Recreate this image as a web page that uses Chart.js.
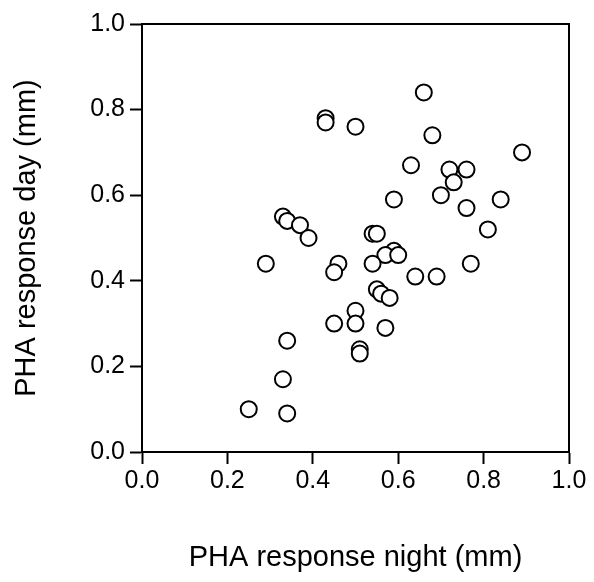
<!DOCTYPE html>
<html>
<head>
<meta charset="utf-8">
<script src="https://cdn.jsdelivr.net/npm/chart.js@4"></script>
<style>
  body { margin: 0; background: #fff; }
  #wrap { width: 594px; height: 582px; }
</style>
</head>
<body>
<div id="wrap"><canvas id="chart" width="594" height="582"></canvas></div>
<script>
// PHA response (mm), night vs day
const night = [0.43, 0.43, 0.50, 0.66, 0.68, 0.89, 0.63, 0.72, 0.76, 0.73, 0.70,
  0.59, 0.84, 0.76, 0.33, 0.34, 0.37, 0.81, 0.54, 0.55, 0.39, 0.59, 0.57, 0.60,
  0.29, 0.46, 0.54, 0.77, 0.45, 0.64, 0.69, 0.55, 0.56, 0.58, 0.50, 0.45, 0.50,
  0.57, 0.34, 0.51, 0.51, 0.33, 0.25, 0.34];
const day = [0.78, 0.77, 0.76, 0.84, 0.74, 0.70, 0.67, 0.66, 0.66, 0.63, 0.60,
  0.59, 0.59, 0.57, 0.55, 0.54, 0.53, 0.52, 0.51, 0.51, 0.50, 0.47, 0.46, 0.46,
  0.44, 0.44, 0.44, 0.44, 0.42, 0.41, 0.41, 0.38, 0.37, 0.36, 0.33, 0.30, 0.30,
  0.29, 0.26, 0.24, 0.23, 0.17, 0.10, 0.09];
const xTitle = "PHA response night (mm)";
const yTitle = "PHA response day (mm)";

const points = night.map((x, i) => ({ x: x, y: day[i] }));

const FONT = "'Liberation Sans', Arial, Helvetica, sans-serif";

// draws the top and right edges of the box
const frame = {
  id: "frame",
  afterDraw(chart) {
    const { ctx, chartArea: a } = chart;
    ctx.save();
    ctx.strokeStyle = "#000";
    ctx.lineWidth = 2;
    ctx.strokeRect(a.left, a.top, a.right - a.left, a.bottom - a.top);
    ctx.restore();
  },
};

const axisStyle = (title, pad) => ({
  type: "linear",
  min: 0,
  max: 1,
  ticks: {
    stepSize: 0.2,
    color: "#000",
    font: { family: FONT, size: 25 },
    padding: pad.tick,
    callback: (v) => v.toFixed(1),
  },
  grid: {
    drawOnChartArea: false,
    drawTicks: true,
    tickLength: 12,
    tickWidth: 2,
    color: "#000",
  },
  border: { display: true, color: "#000", width: 2 },
  title: {
    display: true,
    text: title,
    color: "#000",
    font: { family: FONT, size: 29 },
    padding: pad.title,
  },
});

const xAxis = axisStyle(xTitle, { tick: 2, title: { top: 0, bottom: 7 } });
xAxis.afterFit = (s) => { s.height = 130; };
const yAxis = axisStyle(yTitle, { tick: 5, title: { top: 10, bottom: 0 } });
yAxis.afterFit = (s) => { s.width = 142; };

new Chart(document.getElementById("chart"), {
  type: "scatter",
  data: {
    datasets: [
      {
        data: points,
        pointStyle: "circle",
        pointRadius: 8,
        pointHoverRadius: 8,
        pointBorderWidth: 2,
        pointBackgroundColor: "#fff",
        pointBorderColor: "#000",
      },
    ],
  },
  options: {
    responsive: false,
    animation: false,
    layout: { padding: { top: 24, right: 25, left: 0, bottom: 0 } },
    plugins: { legend: { display: false }, tooltip: { enabled: false } },
    scales: { x: xAxis, y: yAxis },
  },
  plugins: [frame],
});
</script>
</body>
</html>
